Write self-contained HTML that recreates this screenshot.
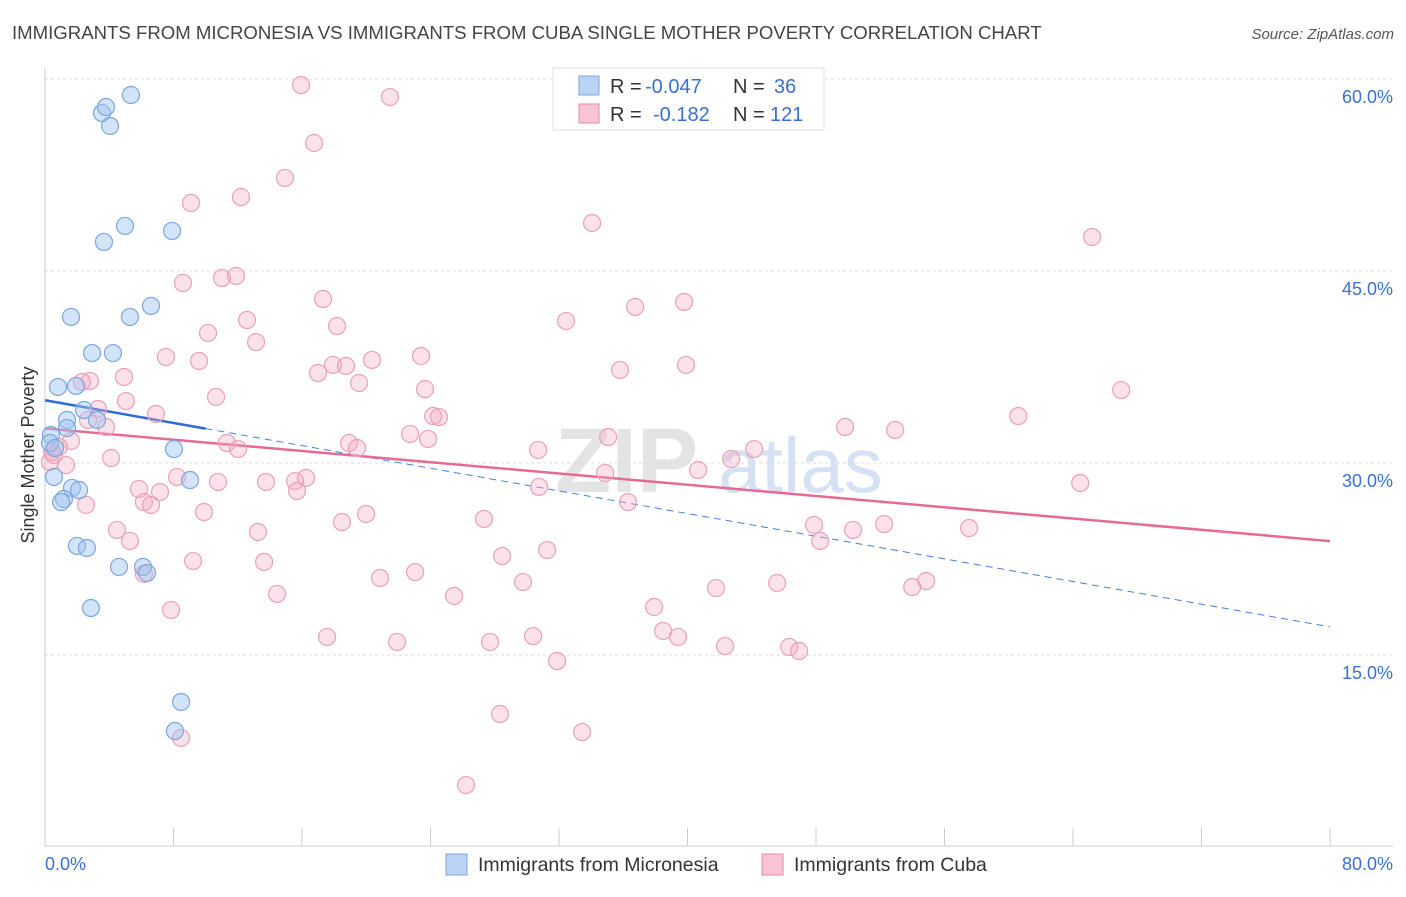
<!DOCTYPE html>
<html><head><meta charset="utf-8"><style>
body{margin:0;background:#fff;font-family:"Liberation Sans",sans-serif;}
svg text{font-family:"Liberation Sans",sans-serif;}
</style></head><body>
<svg id="chart" width="1406" height="892" xmlns="http://www.w3.org/2000/svg">
<text x="12" y="39" font-size="18.6" fill="#444">IMMIGRANTS FROM MICRONESIA VS IMMIGRANTS FROM CUBA SINGLE MOTHER POVERTY CORRELATION CHART</text>
<text x="1394" y="39" font-size="15" fill="#555" text-anchor="end" font-style="italic">Source: ZipAtlas.com</text>
<text x="555" y="492" font-size="92" fill="#e4e4e4" font-weight="bold">ZIP</text>
<text x="718" y="492" font-size="78" fill="#d6e2f3">atlas</text>
<text transform="translate(34,455) rotate(-90)" font-size="18" fill="#333" text-anchor="middle">Single Mother Poverty</text>
<g id="grid"></g><g id="xticks"></g><g id="trends"></g><g id="pts"></g>
<g>
<rect x="553" y="68" width="271" height="62" fill="#fff" stroke="#ddd"/>
<rect x="579" y="76" width="20" height="19" fill="#b9d3f5" stroke="#7aa7e0"/>
<rect x="579" y="104" width="20" height="19" fill="#f8c3d4" stroke="#e88aa8"/>
<text x="610" y="93" font-size="20" fill="#333">R = </text><text x="645" y="93" font-size="20" fill="#3b6fd0">-0.047</text>
<text x="733" y="93" font-size="20" fill="#333">N = </text><text x="774" y="93" font-size="20" fill="#3b6fd0">36</text>
<text x="610" y="121" font-size="20" fill="#333">R = </text><text x="653" y="121" font-size="20" fill="#3b6fd0">-0.182</text>
<text x="733" y="121" font-size="20" fill="#333">N = </text><text x="770" y="121" font-size="20" fill="#3b6fd0">121</text>
</g>
<g>
<rect x="446" y="854" width="21" height="21" fill="#b9d3f5" stroke="#7aa7e0"/>
<text x="478" y="871" font-size="19.5" fill="#333">Immigrants from Micronesia</text>
<rect x="762" y="854" width="21" height="21" fill="#f8c3d4" stroke="#e88aa8"/>
<text x="794" y="871" font-size="19.5" fill="#333">Immigrants from Cuba</text>
</g>
<text x="45" y="870" font-size="18" fill="#3b6fd0">0.0%</text>
<text x="1393" y="870" font-size="18" fill="#3b6fd0" text-anchor="end">80.0%</text>
</svg>
<script>
const yTicks=[15,30,45,60];
const yTickLabels=["15.0%","30.0%","45.0%","60.0%"];
const xTicks=[0,8,16,24,32,40,48,56,64,72,80];
const microX=[5.35,3.55,3.80,4.05,4.98,7.91,3.67,6.60,1.62,5.29,2.93,4.23,0.81,1.93,2.43,3.24,1.37,1.37,0.37,0.31,0.62,8.03,0.56,9.03,1.68,2.12,1.18,1.00,1.99,2.61,4.61,6.10,6.35,2.86,8.47,8.09];
const microY=[58.75,57.34,57.81,56.33,48.52,48.13,47.27,42.27,41.41,41.41,38.59,38.59,35.94,36.02,34.14,33.36,33.36,32.73,32.19,31.56,31.17,31.09,28.91,28.67,28.05,27.89,27.19,26.95,23.52,23.36,21.88,21.88,21.41,18.67,11.33,9.06];
const cubaX=[15.94,21.48,16.75,14.94,12.20,9.09,34.06,65.19,11.89,11.02,8.59,17.31,39.79,36.74,12.58,32.44,18.18,10.15,13.14,7.53,23.41,9.59,20.36,39.91,35.80,17.93,18.74,17.0,4.92,2.80,2.30,19.55,23.66,67.0,10.65,5.04,3.30,6.91,60.59,24.16,24.53,2.68,3.80,49.81,52.93,22.73,23.85,35.06,1.62,11.33,18.93,0.87,19.43,12.02,30.70,44.15,0.44,4.11,42.72,1.31,8.22,34.87,40.66,13.76,10.77,16.25,15.57,64.45,30.76,15.69,5.85,7.16,2.55,6.16,6.60,36.30,9.90,19.99,27.33,18.49,47.88,52.24,57.53,50.31,13.26,4.48,48.26,5.29,31.26,28.46,9.22,13.64,23.04,20.86,29.76,6.16,54.86,53.99,45.58,41.78,14.45,25.47,37.92,7.85,38.48,17.56,30.39,39.41,27.71,21.92,42.34,46.33,46.95,31.88,28.33,33.44,8.47,26.21,0.31,0.56];
const cubaY=[59.53,58.59,55.0,52.27,50.78,50.31,48.75,47.66,44.61,44.45,44.06,42.81,42.58,42.19,41.17,41.09,40.70,40.16,39.45,38.28,38.36,37.97,38.05,37.66,37.27,37.66,37.58,37.03,36.72,36.41,36.33,36.25,35.78,35.70,35.16,34.84,34.22,33.83,33.67,33.67,33.59,33.36,32.81,32.81,32.58,32.27,31.88,32.03,31.72,31.56,31.56,31.25,31.17,31.09,31.02,31.09,30.86,30.39,30.31,29.84,28.91,29.22,29.45,28.52,28.52,28.83,28.59,28.44,28.13,27.81,27.97,27.73,26.72,26.95,26.72,26.95,26.17,26.02,25.63,25.39,25.16,25.23,24.92,24.77,24.61,24.77,23.91,23.91,23.20,22.73,22.34,22.27,21.48,21.02,20.70,21.33,20.78,20.31,20.63,20.23,19.77,19.61,18.75,18.52,16.88,16.41,16.48,16.41,16.02,16.02,15.70,15.63,15.31,14.53,10.39,8.98,8.52,4.84,30.08,30.63];
const microTrend=[34.9,17.2];
const microSolidEnd=10;
const cubaTrend=[32.7,23.9];
const NS="http://www.w3.org/2000/svg";
const X=v=>45+v/80*1285, Y=v=>847-v/60*768;
function mk(t,a,p){const e=document.createElementNS(NS,t);for(const k in a)e.setAttribute(k,a[k]);p.appendChild(e);return e;}
const grid=document.getElementById('grid');
yTicks.forEach((t,i)=>{
 const l=mk('line',{x1:45,x2:1393,y1:Y(t),y2:Y(t),stroke:'#ddd','stroke-dasharray':'3,3'},grid);
 
 
 const tx=mk('text',{x:1393,y:Y(t)+24,'font-size':18,fill:'#3b6fd0','text-anchor':'end'},grid);
 tx.textContent=yTickLabels[i];
 
 
});
const topLine=mk('line',{x1:45,x2:1393,y1:79,y2:79,stroke:'#ddd','stroke-dasharray':'3,3'},grid);


const ya=mk('line',{x1:45,x2:45,y1:68,y2:846,stroke:'#ccc'},grid);


const xa=mk('line',{x1:45,x2:1393,y1:846,y2:846,stroke:'#ccc'},grid);


const xt=document.getElementById('xticks');
xTicks.forEach(t=>{const l=mk('line',{x1:X(t),x2:X(t),y1:828,y2:846,stroke:'#ccc'},xt);
 
 });
const pts=document.getElementById('pts');
cubaX.forEach((x,i)=>{const c=mk('circle',{cx:X(x),cy:Y(cubaY[i]),r:8.5,fill:'rgba(244,170,195,0.35)',stroke:'#eba0ba','stroke-width':1.2},pts);
 
 });
microX.forEach((x,i)=>{const c=mk('circle',{cx:X(x),cy:Y(microY[i]),r:8.5,fill:'rgba(160,195,240,0.45)',stroke:'#7aa7e0','stroke-width':1.2},pts);
 
 });
const tr=document.getElementById('trends');
const my=x=>microTrend[0]+(microTrend[1]-microTrend[0])*x/80;
const t1=mk('line',{x1:X(microSolidEnd),y1:Y(my(microSolidEnd)),x2:X(80),y2:Y(my(80)),stroke:'#4a7fd4','stroke-width':1,'stroke-dasharray':'7,5'},tr);


const t2=mk('line',{x1:X(0),y1:Y(my(0)),x2:X(microSolidEnd),y2:Y(my(microSolidEnd)),stroke:'#2f6bd0','stroke-width':2.5},tr);


const t3=mk('line',{x1:X(0),y1:Y(cubaTrend[0]),x2:X(80),y2:Y(cubaTrend[1]),stroke:'#e56b96','stroke-width':2.5},tr);


</script>
</body></html>
